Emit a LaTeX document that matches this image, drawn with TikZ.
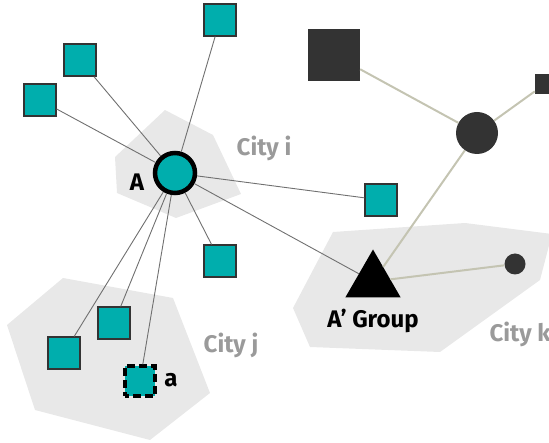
\documentclass[tikz,border=0pt]{standalone}
\usepackage{fontspec}
\setmainfont{Fira Sans}
\usetikzlibrary{shapes.geometric}
\definecolor{teal}{HTML}{00AEAD}
\definecolor{darknode}{HTML}{333333}
\definecolor{zone}{HTML}{E8E8E8}
\definecolor{zonetext}{HTML}{9A9A9A}
\definecolor{tie}{HTML}{707070}
\definecolor{grouptie}{HTML}{C4C4B2}
\tikzset{
  member/.style={rectangle, fill=teal, draw=darknode, line width=1.2pt, minimum size=32pt, inner sep=0pt},
  focal/.style={circle, fill=teal, draw=black, line width=4.5pt, minimum size=40pt, inner sep=0pt},
  dashedmember/.style={rectangle, fill=teal, draw=black, line width=3.4pt, dash pattern=on 8pt off 4pt, dash phase=4pt, minimum size=30pt, inner sep=0pt},
  darksq/.style={rectangle, fill=darknode, draw=none, inner sep=0pt},
  darkdot/.style={circle, fill=darknode, draw=none, inner sep=0pt},
  tri/.style={regular polygon, regular polygon sides=3, fill=black, minimum size=64pt, inner sep=0pt},
  citylabel/.style={text=zonetext, font=\bfseries\fontsize{24}{28}\selectfont},
  namelabel/.style={text=black, font=\bfseries\fontsize{24}{28}\selectfont},
  link/.style={draw=tie, line width=0.9pt},
  grouplink/.style={draw=grouptie, line width=2pt}
}
\begin{document}
\begin{tikzpicture}[x=1pt, y=-1pt]
\useasboundingbox (0,0) rectangle (549,443);
% city zones
\fill[zone] (115,157) -- (165,110) -- (213,135) -- (241,194) -- (176,218) -- (117,193) -- cycle;
\fill[zone] (7,325) -- (63,278) -- (173,298) -- (210,393) -- (150,440) -- (35,410) -- cycle;
\fill[zone] (293,308) -- (333,232) -- (465,223) -- (552,234) -- (540,280) -- (440,352) -- (310,347) -- cycle;
% nodes
\node[focal] (A) at (175,173) {};
\node[member] (s1) at (220,20) {};
\node[member] (s2) at (80,60) {};
\node[member] (s3) at (40,100) {};
\node[member] (s4) at (381,200) {};
\node[member] (s5) at (220,261) {};
\node[member] (s6) at (114,323) {};
\node[member] (s7) at (64,353) {};
\node[dashedmember] (a) at (140,381) {};
\node[darksq, minimum size=52pt] (big) at (334,55) {};
\node[darkdot, minimum size=42pt] (hub) at (477,133) {};
\node[darksq, minimum size=20pt] (small) at (545,84) {};
\node[tri] (G) at (373,281.5) {};
\node[darkdot, minimum size=21pt] (dot) at (515,264) {};
% ties
\foreach \t in {s1,s2,s3,s4,s5,s6,s7,a,G} \draw[link] (A) -- (\t);
\draw[grouplink] (big) -- (hub);
\draw[grouplink] (hub) -- (small);
\draw[grouplink] (hub) -- (G);
\draw[grouplink] (G) -- (dot);
% labels
\node[namelabel] (lA) at (137,182) {A};
\node[namelabel] (la) at (171,380) {a};
\node[namelabel] (lG) at (373,321) {A’ Group};
\node[citylabel] (ci) at (264,148) {City i};
\node[citylabel] (cj) at (231,345) {City j};
\node[citylabel, anchor=west] (ck) at (486,334) {City k};
\end{tikzpicture}
\end{document}
